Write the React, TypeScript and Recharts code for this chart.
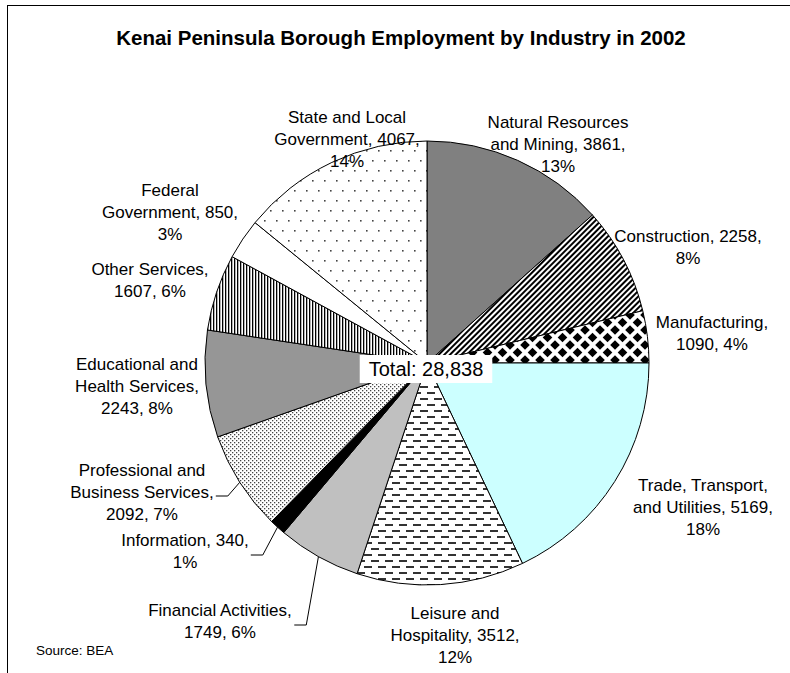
import React from "react";
import { PieChart, Pie, Cell } from "recharts";

// Kenai Peninsula Borough, 2002 employment (BEA)
const industries = [
  "Natural Resources and Mining",
  "Construction",
  "Manufacturing",
  "Trade, Transport, and Utilities",
  "Leisure and Hospitality",
  "Financial Activities",
  "Information",
  "Professional and Business Services",
  "Educational and Health Services",
  "Other Services",
  "Federal Government",
  "State and Local Government",
];
const employment = [3861, 2258, 1090, 5169, 3512, 1749, 340, 2092, 2243, 1607, 850, 4067];

const fills = [
  "#808080",
  "url(#diagStripes)",
  "url(#diamonds)",
  "#ccffff",
  "url(#dashes)",
  "#c0c0c0",
  "#000000",
  "url(#fineDots)",
  "#969696",
  "url(#vertStripes)",
  "#ffffff",
  "url(#sparseDots)",
];

// label block centre, offset from the pie centre
const labelOffset: [number, number][] = [
  [131, -219],
  [261, -116],
  [285, -30],
  [276, 144],
  [28, 272],
  [-207, 258],
  [-242, 188],
  [-285, 129],
  [-290, 23],
  [-277, -83],
  [-257, -151],
  [-80, -224],
];
const withLeader = [5, 6, 7];

const data = industries.map((name, i) => ({ name, value: employment[i] }));
const total = employment.reduce((a, b) => a + b, 0);

const FONT = '"Liberation Sans", Arial, Helvetica, sans-serif';
const LABEL_SIZE = 17;
const LINE_H = 22;
const WRAP_W = 154;
const RAD = Math.PI / 180;

let ctx: CanvasRenderingContext2D | null = null;
function measure(s: string, size: number) {
  if (!ctx) ctx = document.createElement("canvas").getContext("2d");
  ctx!.font = `${size}px "Liberation Sans", Arial`;
  return ctx!.measureText(s).width;
}

function wrap(text: string) {
  const words = text.split(" ");
  const lines: string[] = [];
  let cur = "";
  for (const w of words) {
    const test = cur ? cur + " " + w : w;
    if (cur && measure(test, LABEL_SIZE) > WRAP_W) {
      lines.push(cur);
      cur = w;
    } else cur = test;
  }
  if (cur) lines.push(cur);
  return lines;
}

const renderLabel = (p: any) => {
  const { cx, cy, midAngle, outerRadius, index, name, value, percent } = p;
  const [dx, dy] = labelOffset[index];
  const lx = cx + dx;
  const ly = cy + dy;
  const lines = wrap(`${name}, ${value}, ${Math.round(percent * 100)}%`);
  const top = ly - ((lines.length - 1) * LINE_H) / 2;

  let leader = null;
  if (withLeader.includes(index)) {
    const ex = cx + outerRadius * Math.cos(-midAngle * RAD);
    const ey = cy + outerRadius * Math.sin(-midAngle * RAD);
    const w = Math.max(...lines.map((l) => measure(l, LABEL_SIZE)));
    const sx = lx + w / 2 + 2;
    leader = (
      <polyline
        points={`${sx},${ly + 4} ${sx + 12},${ly + 4} ${ex},${ey}`}
        fill="none"
        stroke="#000"
        strokeWidth={1}
      />
    );
  }

  // total box in the middle of the pie, drawn once over the slices
  let totalBox = null;
  if (index === 0) {
    const txt = `Total: ${total.toLocaleString("en-US")}`;
    const tw = measure(txt, 20);
    totalBox = (
      <g>
        <rect x={cx - tw / 2 - 10} y={cy - 8} width={tw + 18} height={28} fill="#fff" />
        <text x={cx - 1} y={cy + 13} textAnchor="middle" fontSize={20} fontFamily={FONT} fill="#000">
          {txt}
        </text>
      </g>
    );
  }

  return (
    <g key={`lbl-${index}`}>
      {leader}
      <text textAnchor="middle" fontSize={LABEL_SIZE} fontFamily={FONT} fill="#000">
        {lines.map((l, i) => (
          <tspan key={i} x={lx} y={top + i * LINE_H + 6}>
            {l}
          </tspan>
        ))}
      </text>
      {totalBox}
    </g>
  );
};

export default function App() {
  return (
    <div style={{ position: "absolute", left: 0, top: 0, width: 790, height: 673, background: "#fff" }}>
      <div
        style={{
          position: "absolute",
          left: 7,
          top: 5,
          width: 800,
          height: 700,
          borderTop: "1px solid #000",
          borderLeft: "1px solid #000",
        }}
      />
      <div
        style={{
          position: "absolute",
          left: 0,
          width: 802,
          top: 26,
          textAlign: "center",
          fontFamily: FONT,
          fontWeight: "bold",
          fontSize: 20.5,
          lineHeight: "24px",
        }}
      >
        Kenai Peninsula Borough Employment by Industry in 2002
      </div>
      <div
        style={{
          position: "absolute",
          left: 36,
          top: 643,
          fontFamily: FONT,
          fontSize: 13.5,
          lineHeight: "16px",
        }}
      >
        Source: BEA
      </div>
      <div style={{ position: "absolute", left: 0, top: 0 }}>
        <PieChart width={790} height={673} margin={{ top: 0, right: 0, bottom: 0, left: 0 }}>
          <defs>
            <pattern id="diagStripes" width={4} height={4} patternUnits="userSpaceOnUse" patternTransform="rotate(45)">
              <rect width={4} height={4} fill="#fff" />
              <rect width={2} height={4} fill="#000" />
            </pattern>
            <pattern id="vertStripes" width={3} height={3} patternUnits="userSpaceOnUse">
              <rect width={3} height={3} fill="#fff" />
              <rect width={1.3} height={3} fill="#000" />
            </pattern>
            <pattern id="diamonds" width={15} height={15} patternUnits="userSpaceOnUse">
              <rect width={15} height={15} fill="#fff" />
              <polygon points="0,-4.8 4.8,0 0,4.8 -4.8,0" fill="#000" />
              <polygon points="15,-4.8 19.8,0 15,4.8 10.2,0" fill="#000" />
              <polygon points="0,10.2 4.8,15 0,19.8 -4.8,15" fill="#000" />
              <polygon points="15,10.2 19.8,15 15,19.8 10.2,15" fill="#000" />
              <polygon points="7.5,2.7 12.3,7.5 7.5,12.3 2.7,7.5" fill="#000" />
            </pattern>
            <pattern id="dashes" width={14} height={12} patternUnits="userSpaceOnUse">
              <rect width={14} height={12} fill="#fff" />
              <rect x={0} y={2} width={8} height={2} fill="#333" />
              <rect x={7} y={8} width={8} height={2} fill="#333" />
              <rect x={-7} y={8} width={8} height={2} fill="#333" />
            </pattern>
            <pattern id="fineDots" width={4} height={4} patternUnits="userSpaceOnUse">
              <rect width={4} height={4} fill="#fff" />
              <rect x={0} y={0} width={1.3} height={1.3} fill="#444" />
              <rect x={2} y={2} width={1.3} height={1.3} fill="#444" />
            </pattern>
            <pattern id="sparseDots" width={12} height={20} patternUnits="userSpaceOnUse">
              <rect width={12} height={20} fill="#fff" />
              <rect x={0} y={0} width={1.6} height={1.6} fill="#444" />
              <rect x={6} y={10} width={1.6} height={1.6} fill="#444" />
            </pattern>
          </defs>
          <Pie
            data={data}
            dataKey="value"
            nameKey="name"
            cx={427}
            cy={363}
            outerRadius={222}
            startAngle={90}
            endAngle={-270}
            stroke="#000"
            strokeWidth={1}
            label={renderLabel}
            labelLine={false}
            isAnimationActive={false}
          >
            {data.map((d, i) => (
              <Cell key={d.name} fill={fills[i]} />
            ))}
          </Pie>
        </PieChart>
      </div>
    </div>
  );
}
